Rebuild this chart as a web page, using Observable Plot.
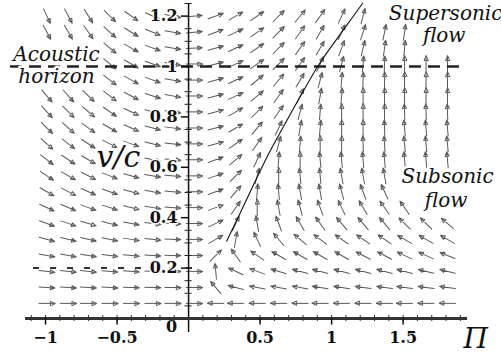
<!DOCTYPE html>
<html><head><meta charset="utf-8">
<script src="https://cdn.jsdelivr.net/npm/d3@7"></script>
<script src="https://cdn.jsdelivr.net/npm/@observablehq/plot@0.6"></script>
<style>
html,body{margin:0;padding:0;background:#fff}
</style>
</head><body><div id="chart"></div>
<script>
// Direction-field grid (Π along x, v/c along y, rows listed top → bottom)
const piGrid = [-0.99,-0.84,-0.70,-0.55,-0.40,-0.25,-0.11,0.04,0.19,0.33,0.48,0.63,0.78,0.92,1.07,1.22,1.37,1.51,1.66,1.81];
const vcGrid = [1.20,1.136,1.073,1.01,0.946,0.883,0.82,0.756,0.693,0.63,0.566,0.503,0.44,0.377,0.314,0.25,0.187,0.123,0.06];
// arrow direction on screen, degrees counter-clockwise from +Π; null = hidden under a label
const arrowAngles = [
  [-65,-62,-58,-45,-35,-25,-12,5,20,30,35,45,50,55,65,75,null,null,null,null],
  [-62,-60,-55,-42,-32,-22,-10,5,20,25,35,45,55,60,65,72,78,82,null,null],
  [null,null,null,-40,-30,-20,-10,3,15,25,35,45,55,60,70,77,82,85,null,null],
  [null,null,null,-40,-30,-20,-10,0,15,25,35,45,55,65,75,85,88,90,90,90],
  [null,null,null,-38,-30,-20,-10,0,15,25,40,50,60,75,85,88,90,90,90,90],
  [-50,-48,-44,-38,-28,-18,-10,0,15,25,40,55,65,80,85,90,90,90,90,90],
  [-48,-45,-40,-35,-25,-15,-8,0,15,30,45,55,75,85,90,90,90,92,92,92],
  [-45,-42,-36,-30,-24,-15,-8,0,15,30,50,65,80,85,90,90,92,95,95,95],
  [-42,-38,-33,-28,-20,-14,-6,0,15,35,55,75,85,90,90,92,93,95,95,95],
  [-38,-34,-30,null,null,-12,-5,0,20,40,65,85,90,95,95,95,95,95,95,95],
  [-34,-30,-27,-22,-16,-10,-5,0,20,45,75,90,95,95,100,100,100,null,null,null],
  [-30,-27,-24,-20,-15,-10,-5,0,20,50,85,95,100,100,105,110,115,null,null,null],
  [-25,-23,-20,-18,-14,-9,-4,0,20,55,90,100,105,110,115,120,125,125,null,null],
  [-20,-19,-17,-15,-11,-8,-3,0,25,65,100,110,120,125,130,130,130,135,135,140],
  [-16,-14,-13,-11,-9,-6,-2,0,30,80,115,130,140,143,145,145,145,150,150,150],
  [-11,-10,-9,-8,-6,-4,-1,0,45,125,145,150,150,150,150,152,152,155,155,158],
  [-7,-6,-6,-5,-4,-3,-1,0,95,155,160,163,165,165,165,165,165,165,166,166],
  [-4,-4,-3,-3,-2,-2,0,0,130,165,170,170,170,171,171,172,172,172,172,172],
  [0,0,0,0,0,0,0,0,180,180,180,180,180,180,180,180,180,180,180,180]
];
// solution curve
const curvePi = [0.266,0.357,0.545,0.636,0.776,0.916,1.105,1.217];
const curveVc = [0.307,0.414,0.637,0.733,0.876,1.012,1.163,1.251];
// axes
const xTickValues = [-1,-0.5,0.5,1,1.5];
const xTickLabels = ["−1","−0.5","0.5","1","1.5"];
const xMinorTicks = [-1.1,-1,-0.9,-0.8,-0.7,-0.6,-0.5,-0.4,-0.3,-0.2,-0.1,0.1,0.2,0.3,0.4,0.5,0.6,0.7,0.8,0.9,1,1.1,1.2,1.3,1.4,1.5,1.6,1.7,1.8,1.9];
const yTickValues = [0.2,0.4,0.6,0.8,1,1.2];
const yTickLabels = ["0.2","0.4","0.6","0.8","1","1.2"];
const yMinorTicks = [0.05,0.1,0.15,0.25,0.3,0.35,0.45,0.5,0.55,0.65,0.7,0.75,0.85,0.9,0.95,1.05,1.1,1.15,1.25];
const horizonLevel = [1];
const lowLevel = [0.2];

const cells = [];
vcGrid.forEach((vc, r) => piGrid.forEach((pi, c) => {
  const a = arrowAngles[r][c];
  if (a !== null) cells.push({pi, vc, angle: a});
}));
const curve = curvePi.map((p, i) => ({pi: p, vc: curveVc[i]}));

const openHead = {
  draw(ctx, l, r) {
    ctx.moveTo(0, 0); ctx.lineTo(0, -l);
    ctx.moveTo(0, -l); ctx.lineTo(-2, -l + 4.5); ctx.lineTo(2, -l + 4.5); ctx.closePath();
  }
};

const serifFont = "DejaVu Serif";
const ann = {fontFamily: serifFont, fontStyle: "italic", fontSize: 20, fill: "#111", stroke: "white", strokeWidth: 5, paintOrder: "stroke"};
const tickStyle = {fontFamily: serifFont, fontSize: 16, fontWeight: "bold", fill: "#111"};
function build(shape) {
  const vecOpts = {x: "pi", y: "vc", rotate: d => 90 - d.angle, length: 16, anchor: "middle",
    stroke: "#5a5a5a", strokeWidth: 1, r: 2};
  if (shape) vecOpts.shape = shape;
  return Plot.plot({
    width: 501, height: 356,
    marginLeft: 25, marginRight: 34, marginTop: 3, marginBottom: 38,
    x: {domain: [-1.14, 1.95], axis: null},
    y: {domain: [0, 1.25], axis: null},
    style: {background: "white", overflow: "visible"},
    marks: [
      Plot.vector(cells, vecOpts),
      Plot.ruleY(lowLevel, {x1: -1.084, x2: 0.084, stroke: "#333", strokeWidth: 2, strokeDasharray: "6,11"}),
      Plot.ruleY(horizonLevel, {x1: -1.245, x2: 1.92, stroke: "#222", strokeWidth: 2.5, strokeDasharray: "12,7"}),
      Plot.line(curve, {x: "pi", y: "vc", curve: "catmull-rom", stroke: "#111", strokeWidth: 1.1}),
      // y axis
      Plot.ruleX([0], {y1: -0.056, y2: 1.25, stroke: "#111", strokeWidth: 1.5}),
      Plot.ruleY(yMinorTicks, {x1: -0.025, x2: 0.025, stroke: "#222", strokeWidth: 1}),
      Plot.ruleY(yTickValues, {x1: -0.05, x2: 0, stroke: "#111", strokeWidth: 1.5}),
      // x axis
      Plot.ruleY([0], {x1: -1.14, x2: 1.95, stroke: "#333", strokeWidth: 3}),
      Plot.ruleX(xMinorTicks, {y1: -0.012, y2: 0.012, stroke: "#333", strokeWidth: 1}),
      Plot.ruleX(xTickValues, {y1: -0.026, y2: 0, stroke: "#111", strokeWidth: 1.5}),
      Plot.text(yTickValues, {x: 0, y: d => d, text: (d, i) => yTickLabels[i], dx: -11, textAnchor: "end",
        ...tickStyle, stroke: "white", strokeWidth: 3, paintOrder: "stroke"}),
      Plot.text(xTickValues, {x: d => d, y: 0, text: (d, i) => xTickLabels[i], dy: 19, ...tickStyle}),
      Plot.text(["0"], {x: -0.119, y: -0.032, ...tickStyle}),
      // annotations
      Plot.text(["Acoustic"], {x: -0.923, y: 1.046, ...ann}),
      Plot.text(["horizon"], {x: -0.923, y: 0.958, ...ann}),
      Plot.text(["Supersonic"], {x: 1.797, y: 1.21, ...ann}),
      Plot.text(["flow"], {x: 1.787, y: 1.124, ...ann}),
      Plot.text(["Subsonic"], {x: 1.811, y: 0.562, ...ann}),
      Plot.text(["flow"], {x: 1.80, y: 0.466, ...ann}),
      Plot.text(["v/c"], {x: -0.49, y: 0.639, ...ann, fontSize: 30}),
      Plot.text(["Π"], {x: 2.007, y: -0.081, fontFamily: serifFont, fontStyle: "italic", fontSize: 28, fill: "#111"})
    ]
  });
}
let chart;
try { chart = build(openHead); } catch (e) { chart = build(null); }
document.getElementById("chart").append(chart);
</script>
</body></html>
